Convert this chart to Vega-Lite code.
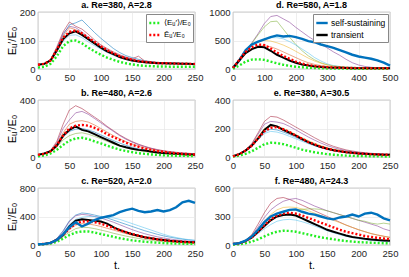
{
"$schema": "https://vega.github.io/schema/vega-lite/v6.json",
"padding": {"left": 5, "top": 0, "right": 0, "bottom": 0},
"config": {
  "font": "Liberation Sans",
  "view": {"stroke": "#8c8c8c", "strokeWidth": 0.7},
  "axis": {"labelFontSize": 9.5, "labelColor": "#262626", "gridColor": "#e6e6e6", "gridWidth": 0.7, "domain": false, "ticks": false, "labelPadding": 3, "labelFlush": false, "labelOverlap": false, "titleFontSize": 11, "titleFontWeight": "normal", "titleColor": "#000000", "titlePadding": 2, "format": "d"},
  "title": {"fontSize": 9, "fontWeight": "bold", "offset": -3, "color": "#000000"},
  "legend": {"orient": "top-right", "offset": 2, "title": null, "fillColor": "white", "strokeColor": "#888888", "padding": 2, "labelFontSize": 8, "labelOffset": 2, "symbolType": "stroke", "symbolSize": 130, "symbolStrokeWidth": 2.4, "symbolOpacity": 1, "rowPadding": 0, "labelLimit": 120}
},
"data": {"values": [
{"p":"a","t":0,"k":15,"r":15,"g":5,"c1":15,"c2":15,"c3":15,"c4":15,"c5":15},
{"p":"a","t":10,"k":18,"r":18,"g":8,"c1":18,"c2":19,"c3":18,"c4":17,"c5":18},
{"p":"a","t":20,"k":30,"r":30,"g":18,"c1":32,"c2":33,"c3":30,"c4":28,"c5":31},
{"p":"a","t":30,"k":65,"r":68,"g":45,"c1":70,"c2":78,"c3":68,"c4":60,"c5":72},
{"p":"a","t":40,"k":105,"r":110,"g":80,"c1":120,"c2":130,"c3":115,"c4":98,"c5":125},
{"p":"a","t":50,"k":125,"r":130,"g":98,"c1":155,"c2":165,"c3":145,"c4":118,"c5":150},
{"p":"a","t":60,"k":132,"r":135,"g":100,"c1":162,"c2":150,"c3":138,"c4":120,"c5":145},
{"p":"a","t":70,"k":120,"r":125,"g":90,"c1":172,"c2":140,"c3":125,"c4":110,"c5":130},
{"p":"a","t":80,"k":105,"r":110,"g":75,"c1":150,"c2":122,"c3":108,"c4":95,"c5":112},
{"p":"a","t":90,"k":90,"r":95,"g":62,"c1":128,"c2":102,"c3":92,"c4":82,"c5":95},
{"p":"a","t":100,"k":75,"r":80,"g":50,"c1":108,"c2":85,"c3":78,"c4":70,"c5":80},
{"p":"a","t":110,"k":62,"r":66,"g":40,"c1":90,"c2":72,"c3":65,"c4":58,"c5":68},
{"p":"a","t":120,"k":52,"r":55,"g":32,"c1":72,"c2":60,"c3":55,"c4":48,"c5":56},
{"p":"a","t":130,"k":42,"r":45,"g":25,"c1":58,"c2":50,"c3":46,"c4":40,"c5":47},
{"p":"a","t":140,"k":35,"r":38,"g":20,"c1":47,"c2":42,"c3":38,"c4":34,"c5":40},
{"p":"a","t":150,"k":30,"r":32,"g":16,"c1":40,"c2":36,"c3":32,"c4":28,"c5":34},
{"p":"a","t":160,"k":26,"r":28,"g":13,"c1":34,"c2":45,"c3":28,"c4":25,"c5":30},
{"p":"a","t":170,"k":24,"r":25,"g":11,"c1":29,"c2":28,"c3":25,"c4":23,"c5":26},
{"p":"a","t":180,"k":22,"r":23,"g":10,"c1":26,"c2":25,"c3":23,"c4":21,"c5":24},
{"p":"a","t":190,"k":20,"r":21,"g":9,"c1":23,"c2":23,"c3":21,"c4":20,"c5":22},
{"p":"a","t":200,"k":20,"r":20,"g":9,"c1":22,"c2":21,"c3":20,"c4":19,"c5":21},
{"p":"a","t":210,"k":19,"r":20,"g":8,"c1":21,"c2":20,"c3":19,"c4":18,"c5":20},
{"p":"a","t":220,"k":19,"r":19,"g":8,"c1":20,"c2":20,"c3":19,"c4":18,"c5":19},
{"p":"a","t":230,"k":18,"r":19,"g":8,"c1":20,"c2":19,"c3":18,"c4":17,"c5":19},
{"p":"a","t":240,"k":18,"r":18,"g":8,"c1":19,"c2":19,"c3":18,"c4":17,"c5":18},
{"p":"a","t":250,"k":17,"r":18,"g":8,"c1":19,"c2":18,"c3":17,"c4":17,"c5":18},
{"p":"b","t":0,"k":15,"r":15,"g":5,"c1":15,"c2":15,"c3":15,"c4":15,"c5":15},
{"p":"b","t":10,"k":25,"r":22,"g":10,"c1":25,"c2":24,"c3":24,"c4":25,"c5":24},
{"p":"b","t":20,"k":40,"r":40,"g":25,"c1":45,"c2":42,"c3":40,"c4":38,"c5":38},
{"p":"b","t":30,"k":80,"r":85,"g":50,"c1":110,"c2":100,"c3":90,"c4":75,"c5":70},
{"p":"b","t":40,"k":150,"r":150,"g":85,"c1":230,"c2":200,"c3":170,"c4":140,"c5":120},
{"p":"b","t":50,"k":190,"r":200,"g":115,"c1":330,"c2":260,"c3":230,"c4":180,"c5":150},
{"p":"b","t":60,"k":215,"r":220,"g":130,"c1":360,"c2":310,"c3":250,"c4":195,"c5":165},
{"p":"b","t":70,"k":190,"r":225,"g":135,"c1":340,"c2":320,"c3":255,"c4":200,"c5":170},
{"p":"b","t":80,"k":180,"r":220,"g":125,"c1":310,"c2":300,"c3":245,"c4":190,"c5":160},
{"p":"b","t":90,"k":160,"r":205,"g":110,"c1":280,"c2":270,"c3":225,"c4":175,"c5":145},
{"p":"b","t":100,"k":140,"r":185,"g":95,"c1":250,"c2":240,"c3":200,"c4":155,"c5":128},
{"p":"b","t":110,"k":120,"r":160,"g":80,"c1":215,"c2":210,"c3":175,"c4":135,"c5":110},
{"p":"b","t":120,"k":100,"r":140,"g":65,"c1":185,"c2":180,"c3":150,"c4":115,"c5":92},
{"p":"b","t":130,"k":80,"r":120,"g":52,"c1":155,"c2":150,"c3":128,"c4":98,"c5":78},
{"p":"b","t":140,"k":68,"r":100,"g":42,"c1":130,"c2":125,"c3":108,"c4":82,"c5":65},
{"p":"b","t":150,"k":58,"r":85,"g":34,"c1":108,"c2":104,"c3":90,"c4":68,"c5":54},
{"p":"b","t":160,"k":50,"r":72,"g":27,"c1":90,"c2":86,"c3":75,"c4":57,"c5":45},
{"p":"b","t":170,"k":45,"r":60,"g":22,"c1":75,"c2":72,"c3":63,"c4":48,"c5":38},
{"p":"b","t":180,"k":38,"r":50,"g":18,"c1":62,"c2":60,"c3":53,"c4":40,"c5":32},
{"p":"b","t":190,"k":32,"r":42,"g":15,"c1":52,"c2":50,"c3":45,"c4":34,"c5":27},
{"p":"b","t":200,"k":28,"r":36,"g":12,"c1":44,"c2":42,"c3":38,"c4":29,"c5":23},
{"p":"b","t":210,"k":25,"r":30,"g":10,"c1":38,"c2":36,"c3":33,"c4":25,"c5":20},
{"p":"b","t":220,"k":22,"r":26,"g":9,"c1":33,"c2":31,"c3":29,"c4":22,"c5":18},
{"p":"b","t":230,"k":20,"r":22,"g":8,"c1":29,"c2":27,"c3":25,"c4":20,"c5":16},
{"p":"b","t":240,"k":18,"r":20,"g":7,"c1":26,"c2":24,"c3":22,"c4":18,"c5":14},
{"p":"b","t":250,"k":15,"r":18,"g":6,"c1":23,"c2":21,"c3":20,"c4":16,"c5":13},
{"p":"c","t":0,"k":10,"r":10,"g":5,"b":10,"c1":10,"c2":10,"c3":10,"c4":10,"c5":10},
{"p":"c","t":10,"k":15,"r":15,"g":10,"b":15,"c1":16,"c2":16,"c3":15,"c4":15,"c5":14},
{"p":"c","t":20,"k":30,"r":30,"g":20,"b":30,"c1":35,"c2":35,"c3":32,"c4":30,"c5":28},
{"p":"c","t":30,"k":70,"r":70,"g":45,"b":70,"c1":90,"c2":90,"c3":80,"c4":70,"c5":60},
{"p":"c","t":40,"k":140,"r":140,"g":90,"b":150,"c1":200,"c2":190,"c3":170,"c4":140,"c5":120},
{"p":"c","t":50,"k":260,"r":230,"g":140,"b":250,"c1":340,"c2":330,"c3":290,"c4":220,"c5":180},
{"p":"c","t":60,"k":340,"r":300,"g":175,"b":320,"c1":420,"c2":410,"c3":360,"c4":280,"c5":230},
{"p":"c","t":70,"k":360,"r":330,"g":190,"b":260,"c1":450,"c2":430,"c3":390,"c4":300,"c5":250},
{"p":"c","t":80,"k":350,"r":330,"g":190,"b":300,"c1":440,"c2":420,"c3":400,"c4":295,"c5":245},
{"p":"c","t":90,"k":340,"r":320,"g":175,"b":350,"c1":420,"c2":400,"c3":400,"c4":280,"c5":230},
{"p":"c","t":100,"k":330,"r":300,"g":155,"b":380,"c1":400,"c2":380,"c3":395,"c4":260,"c5":210},
{"p":"c","t":110,"k":300,"r":270,"g":135,"b":400,"c1":380,"c2":350,"c3":390,"c4":235,"c5":190},
{"p":"c","t":120,"k":250,"r":240,"g":115,"b":420,"c1":350,"c2":320,"c3":380,"c4":210,"c5":165},
{"p":"c","t":130,"k":210,"r":210,"g":95,"b":460,"c1":320,"c2":285,"c3":360,"c4":185,"c5":145},
{"p":"c","t":140,"k":180,"r":180,"g":80,"b":490,"c1":290,"c2":250,"c3":330,"c4":160,"c5":125},
{"p":"c","t":150,"k":150,"r":155,"g":65,"b":510,"c1":260,"c2":215,"c3":300,"c4":138,"c5":108},
{"p":"c","t":160,"k":130,"r":130,"g":55,"b":480,"c1":230,"c2":185,"c3":270,"c4":118,"c5":92},
{"p":"c","t":170,"k":110,"r":110,"g":45,"b":460,"c1":200,"c2":158,"c3":240,"c4":100,"c5":78},
{"p":"c","t":180,"k":95,"r":95,"g":38,"b":470,"c1":175,"c2":135,"c3":210,"c4":85,"c5":66},
{"p":"c","t":190,"k":80,"r":80,"g":32,"b":490,"c1":150,"c2":115,"c3":180,"c4":72,"c5":56},
{"p":"c","t":200,"k":70,"r":68,"g":27,"b":470,"c1":128,"c2":98,"c3":150,"c4":62,"c5":48},
{"p":"c","t":210,"k":60,"r":58,"g":23,"b":490,"c1":110,"c2":84,"c3":125,"c4":53,"c5":41},
{"p":"c","t":220,"k":52,"r":50,"g":20,"b":530,"c1":95,"c2":72,"c3":105,"c4":46,"c5":35},
{"p":"c","t":230,"k":46,"r":44,"g":18,"b":600,"c1":82,"c2":62,"c3":88,"c4":40,"c5":30},
{"p":"c","t":240,"k":42,"r":40,"g":16,"b":620,"c1":72,"c2":54,"c3":75,"c4":35,"c5":26},
{"p":"c","t":250,"k":40,"r":36,"g":15,"b":590,"c1":64,"c2":48,"c3":65,"c4":31,"c5":23},
{"p":"d","t":0,"k":20,"r":20,"g":5,"b":20,"c1":20,"c2":20,"c3":20,"c4":20,"c5":20},
{"p":"d","t":20,"k":150,"r":160,"g":60,"b":150,"c1":150,"c2":150,"c3":140,"c4":150,"c5":140},
{"p":"d","t":40,"k":280,"r":300,"g":130,"b":330,"c1":320,"c2":310,"c3":290,"c4":310,"c5":280},
{"p":"d","t":60,"k":350,"r":380,"g":165,"b":430,"c1":460,"c2":450,"c3":400,"c4":420,"c5":360},
{"p":"d","t":80,"k":390,"r":430,"g":170,"b":480,"c1":620,"c2":600,"c3":470,"c4":480,"c5":400},
{"p":"d","t":100,"k":380,"r":420,"g":160,"b":520,"c1":800,"c2":740,"c3":520,"c4":500,"c5":410},
{"p":"d","t":120,"k":320,"r":360,"g":130,"b":560,"c1":920,"c2":830,"c3":550,"c4":490,"c5":390},
{"p":"d","t":140,"k":250,"r":290,"g":100,"b":590,"c1":940,"c2":840,"c3":550,"c4":460,"c5":350},
{"p":"d","t":160,"k":200,"r":230,"g":75,"b":570,"c1":880,"c2":700,"c3":530,"c4":420,"c5":300},
{"p":"d","t":180,"k":150,"r":180,"g":55,"b":580,"c1":820,"c2":560,"c3":480,"c4":370,"c5":250},
{"p":"d","t":200,"k":110,"r":130,"g":40,"b":560,"c1":730,"c2":430,"c3":420,"c4":310,"c5":200},
{"p":"d","t":220,"k":80,"r":95,"g":30,"b":530,"c1":650,"c2":320,"c3":350,"c4":250,"c5":150},
{"p":"d","t":240,"k":60,"r":70,"g":22,"b":490,"c1":570,"c2":230,"c3":280,"c4":190,"c5":110},
{"p":"d","t":260,"k":45,"r":52,"g":17,"b":470,"c1":500,"c2":160,"c3":200,"c4":140,"c5":80},
{"p":"d","t":280,"k":35,"r":40,"g":13,"b":430,"c1":430,"c2":110,"c3":140,"c4":100,"c5":60},
{"p":"d","t":300,"k":28,"r":32,"g":10,"b":400,"c1":370,"c2":75,"c3":90,"c4":70,"c5":45},
{"p":"d","t":320,"k":24,"r":26,"g":8,"b":370,"c1":300,"c2":55,"c3":60,"c4":50,"c5":35},
{"p":"d","t":340,"k":20,"r":22,"g":7,"b":330,"c1":240,"c2":40,"c3":45,"c4":40,"c5":28},
{"p":"d","t":360,"k":18,"r":19,"g":6,"b":290,"c1":170,"c2":32,"c3":35,"c4":32,"c5":24},
{"p":"d","t":380,"k":15,"r":17,"g":5,"b":250,"c1":110,"c2":28,"c3":30,"c4":28,"c5":20},
{"p":"d","t":400,"k":15,"r":15,"g":5,"b":220,"c1":70,"c2":25,"c3":26,"c4":25,"c5":18},
{"p":"d","t":420,"k":14,"r":15,"g":5,"b":200,"c1":45,"c2":22,"c3":24,"c4":22,"c5":17},
{"p":"d","t":440,"k":13,"r":14,"g":4,"b":180,"c1":30,"c2":20,"c3":22,"c4":20,"c5":16},
{"p":"d","t":460,"k":12,"r":13,"g":4,"b":150,"c1":22,"c2":18,"c3":20,"c4":18,"c5":15},
{"p":"d","t":480,"k":12,"r":12,"g":4,"b":110,"c1":18,"c2":17,"c3":18,"c4":17,"c5":14},
{"p":"d","t":500,"k":11,"r":12,"g":4,"b":60,"c1":16,"c2":16,"c3":17,"c4":16,"c5":13},
{"p":"e","t":0,"k":5,"r":5,"g":3,"c1":5,"c2":5,"c3":5,"c4":5,"c5":5},
{"p":"e","t":10,"k":20,"r":20,"g":10,"c1":22,"c2":21,"c3":20,"c4":20,"c5":19},
{"p":"e","t":20,"k":45,"r":45,"g":22,"c1":50,"c2":48,"c3":46,"c4":44,"c5":42},
{"p":"e","t":30,"k":80,"r":80,"g":40,"c1":95,"c2":90,"c3":85,"c4":80,"c5":75},
{"p":"e","t":40,"k":130,"r":130,"g":65,"c1":170,"c2":160,"c3":145,"c4":130,"c5":120},
{"p":"e","t":50,"k":190,"r":180,"g":90,"c1":250,"c2":230,"c3":200,"c4":175,"c5":165},
{"p":"e","t":60,"k":225,"r":205,"g":100,"c1":285,"c2":250,"c3":220,"c4":195,"c5":180},
{"p":"e","t":70,"k":215,"r":210,"g":98,"c1":280,"c2":245,"c3":215,"c4":190,"c5":175},
{"p":"e","t":80,"k":190,"r":195,"g":90,"c1":260,"c2":235,"c3":200,"c4":175,"c5":162},
{"p":"e","t":90,"k":170,"r":175,"g":78,"c1":235,"c2":215,"c3":180,"c4":158,"c5":145},
{"p":"e","t":100,"k":150,"r":150,"g":65,"c1":210,"c2":190,"c3":158,"c4":138,"c5":128},
{"p":"e","t":110,"k":125,"r":128,"g":52,"c1":185,"c2":165,"c3":135,"c4":118,"c5":110},
{"p":"e","t":120,"k":105,"r":105,"g":42,"c1":160,"c2":140,"c3":115,"c4":100,"c5":93},
{"p":"e","t":130,"k":85,"r":88,"g":33,"c1":135,"c2":118,"c3":96,"c4":84,"c5":78},
{"p":"e","t":140,"k":70,"r":72,"g":26,"c1":112,"c2":98,"c3":80,"c4":70,"c5":65},
{"p":"e","t":150,"k":58,"r":58,"g":20,"c1":92,"c2":80,"c3":66,"c4":58,"c5":54},
{"p":"e","t":160,"k":48,"r":48,"g":16,"c1":75,"c2":66,"c3":55,"c4":48,"c5":45},
{"p":"e","t":170,"k":40,"r":40,"g":13,"c1":62,"c2":54,"c3":46,"c4":40,"c5":37},
{"p":"e","t":180,"k":34,"r":34,"g":10,"c1":50,"c2":45,"c3":38,"c4":33,"c5":31},
{"p":"e","t":190,"k":29,"r":29,"g":8,"c1":42,"c2":38,"c3":32,"c4":28,"c5":26},
{"p":"e","t":200,"k":25,"r":25,"g":7,"c1":35,"c2":32,"c3":27,"c4":24,"c5":22},
{"p":"e","t":210,"k":22,"r":22,"g":6,"c1":30,"c2":27,"c3":23,"c4":21,"c5":19},
{"p":"e","t":220,"k":20,"r":20,"g":5,"c1":26,"c2":24,"c3":20,"c4":18,"c5":17},
{"p":"e","t":230,"k":18,"r":18,"g":5,"c1":23,"c2":21,"c3":18,"c4":16,"c5":15},
{"p":"e","t":240,"k":16,"r":16,"g":4,"c1":21,"c2":19,"c3":16,"c4":15,"c5":14},
{"p":"e","t":250,"k":15,"r":15,"g":4,"c1":19,"c2":17,"c3":15,"c4":14,"c5":13},
{"p":"f","t":0,"k":10,"r":10,"g":3,"b":10,"c1":10,"c2":10,"c3":10,"c4":10,"c5":10},
{"p":"f","t":10,"k":18,"r":18,"g":8,"b":20,"c1":20,"c2":20,"c3":19,"c4":19,"c5":18},
{"p":"f","t":20,"k":40,"r":40,"g":18,"b":45,"c1":50,"c2":48,"c3":45,"c4":44,"c5":40},
{"p":"f","t":30,"k":80,"r":80,"g":35,"b":90,"c1":110,"c2":100,"c3":95,"c4":90,"c5":75},
{"p":"f","t":40,"k":140,"r":140,"g":60,"b":160,"c1":220,"c2":190,"c3":170,"c4":160,"c5":120},
{"p":"f","t":50,"k":200,"r":210,"g":90,"b":240,"c1":340,"c2":290,"c3":250,"c4":230,"c5":170},
{"p":"f","t":60,"k":260,"r":270,"g":120,"b":300,"c1":440,"c2":370,"c3":320,"c4":290,"c5":215},
{"p":"f","t":70,"k":300,"r":310,"g":140,"b":330,"c1":490,"c2":420,"c3":370,"c4":330,"c5":250},
{"p":"f","t":80,"k":315,"r":330,"g":150,"b":350,"c1":500,"c2":460,"c3":395,"c4":355,"c5":265},
{"p":"f","t":90,"k":320,"r":340,"g":148,"b":370,"c1":480,"c2":480,"c3":400,"c4":365,"c5":270},
{"p":"f","t":100,"k":310,"r":330,"g":140,"b":375,"c1":450,"c2":490,"c3":395,"c4":370,"c5":262},
{"p":"f","t":110,"k":280,"r":310,"g":125,"b":350,"c1":420,"c2":470,"c3":380,"c4":375,"c5":245},
{"p":"f","t":120,"k":250,"r":285,"g":110,"b":330,"c1":390,"c2":440,"c3":360,"c4":380,"c5":225},
{"p":"f","t":130,"k":220,"r":260,"g":95,"b":320,"c1":360,"c2":410,"c3":335,"c4":380,"c5":200},
{"p":"f","t":140,"k":190,"r":235,"g":80,"b":300,"c1":330,"c2":385,"c3":310,"c4":375,"c5":175},
{"p":"f","t":150,"k":160,"r":210,"g":70,"b":280,"c1":300,"c2":360,"c3":285,"c4":360,"c5":150},
{"p":"f","t":160,"k":140,"r":185,"g":60,"b":270,"c1":270,"c2":340,"c3":260,"c4":340,"c5":128},
{"p":"f","t":170,"k":120,"r":160,"g":50,"b":290,"c1":240,"c2":320,"c3":235,"c4":320,"c5":108},
{"p":"f","t":180,"k":100,"r":140,"g":42,"b":300,"c1":210,"c2":300,"c3":210,"c4":300,"c5":92},
{"p":"f","t":190,"k":85,"r":125,"g":36,"b":320,"c1":185,"c2":280,"c3":185,"c4":280,"c5":78},
{"p":"f","t":200,"k":75,"r":110,"g":30,"b":300,"c1":160,"c2":260,"c3":162,"c4":260,"c5":66},
{"p":"f","t":210,"k":65,"r":95,"g":27,"b":330,"c1":140,"c2":240,"c3":140,"c4":250,"c5":56},
{"p":"f","t":220,"k":58,"r":85,"g":24,"b":340,"c1":120,"c2":220,"c3":120,"c4":230,"c5":48},
{"p":"f","t":230,"k":52,"r":75,"g":21,"b":320,"c1":105,"c2":200,"c3":105,"c4":220,"c5":42},
{"p":"f","t":240,"k":48,"r":68,"g":19,"b":280,"c1":92,"c2":170,"c3":92,"c4":230,"c5":37},
{"p":"f","t":250,"k":45,"r":60,"g":17,"b":260,"c1":80,"c2":150,"c3":80,"c4":220,"c5":33}
]},
"columns": 2,
"spacing": {"row": 6, "column": 4},
"resolve": {"scale": {"color": "independent", "x": "independent", "y": "independent"}, "legend": {"color": "independent"}},
"concat": [
{
  "title": "a. Re=380, A=2.8", "width": 157, "height": 57,
  "transform": [{"filter": "datum.p == 'a'"}],
  "encoding": {
    "x": {"field": "t", "type": "quantitative", "title": null, "scale": {"domain": [0, 250], "nice": false}, "axis": {"values": [0, 50, 100, 150, 200, 250]}},
    "y": {"field": "v", "type": "quantitative", "title": "Eᵤ′/E₀", "scale": {"domain": [0, 200], "nice": false}, "axis": {"values": [0, 100, 200]}},
    "color": {"field": "s", "type": "nominal", "scale": {"domain": ["g", "r", "k", "b", "c1", "c2", "c3", "c4", "c5"], "range": ["#22ee22", "#ff0000", "#000000", "#0072BD", "#0072BD", "#A2142F", "#D95319", "#4DBEEE", "#7E2F8E"]}, "legend": {"values": ["g", "r"], "symbolDash": [2, 2], "labelExpr": "datum.value == 'g' ? '⟨Eᵤ′⟩/E₀' : 'Ēᵤ′/E₀'"}}
  },
  "layer": [
    {"transform": [{"fold": ["c1", "c2", "c3", "c4", "c5"], "as": ["s", "v"]}], "mark": {"type": "line", "strokeWidth": 0.75, "opacity": 0.7}},
    {"transform": [{"fold": ["k"], "as": ["s", "v"]}], "mark": {"type": "line", "strokeWidth": 2}},
    {"transform": [{"fold": ["g", "r"], "as": ["s", "v"]}], "mark": {"type": "line", "strokeWidth": 2.4, "strokeDash": [2, 2]}}
  ]
},
{
  "title": "d. Re=580,  A=1.8", "width": 157, "height": 57,
  "transform": [{"filter": "datum.p == 'd'"}],
  "encoding": {
    "x": {"field": "t", "type": "quantitative", "title": null, "scale": {"domain": [0, 500], "nice": false}, "axis": {"values": [0, 100, 200, 300, 400, 500]}},
    "y": {"field": "v", "type": "quantitative", "title": null, "scale": {"domain": [0, 1000], "nice": false}, "axis": {"values": [0, 500, 1000]}},
    "color": {"field": "s", "type": "nominal", "scale": {"domain": ["g", "r", "k", "b", "c1", "c2", "c3", "c4", "c5"], "range": ["#22ee22", "#ff0000", "#000000", "#0072BD", "#7E2F8E", "#77AC30", "#4DBEEE", "#EDB120", "#D95319"]}, "legend": {"values": ["b", "k"], "labelFontSize": 8.5, "labelExpr": "datum.value == 'b' ? 'self-sustaining' : 'transient'"}}
  },
  "layer": [
    {"transform": [{"fold": ["c1", "c2", "c3", "c4", "c5"], "as": ["s", "v"]}], "mark": {"type": "line", "strokeWidth": 0.75, "opacity": 0.7}},
    {"transform": [{"fold": ["b"], "as": ["s", "v"]}], "mark": {"type": "line", "strokeWidth": 2.4}},
    {"transform": [{"fold": ["k"], "as": ["s", "v"]}], "mark": {"type": "line", "strokeWidth": 2}},
    {"transform": [{"fold": ["g", "r"], "as": ["s", "v"]}], "mark": {"type": "line", "strokeWidth": 2.4, "strokeDash": [2, 2]}}
  ]
},
{
  "title": "b. Re=480, A=2.6", "width": 157, "height": 57,
  "transform": [{"filter": "datum.p == 'b'"}],
  "encoding": {
    "x": {"field": "t", "type": "quantitative", "title": null, "scale": {"domain": [0, 250], "nice": false}, "axis": {"values": [0, 50, 100, 150, 200, 250]}},
    "y": {"field": "v", "type": "quantitative", "title": "Eᵤ′/E₀", "scale": {"domain": [0, 400], "nice": false}, "axis": {"values": [0, 200, 400]}},
    "color": {"field": "s", "type": "nominal", "scale": {"domain": ["g", "r", "k", "b", "c1", "c2", "c3", "c4", "c5"], "range": ["#22ee22", "#ff0000", "#000000", "#0072BD", "#A2142F", "#7E2F8E", "#D95319", "#0072BD", "#77AC30"]}, "legend": null}
  },
  "layer": [
    {"transform": [{"fold": ["c1", "c2", "c3", "c4", "c5"], "as": ["s", "v"]}], "mark": {"type": "line", "strokeWidth": 0.75, "opacity": 0.7}},
    {"transform": [{"fold": ["k"], "as": ["s", "v"]}], "mark": {"type": "line", "strokeWidth": 2}},
    {"transform": [{"fold": ["g", "r"], "as": ["s", "v"]}], "mark": {"type": "line", "strokeWidth": 2.4, "strokeDash": [2, 2]}}
  ]
},
{
  "title": "e. Re=380,  A=30.5", "width": 157, "height": 57,
  "transform": [{"filter": "datum.p == 'e'"}],
  "encoding": {
    "x": {"field": "t", "type": "quantitative", "title": null, "scale": {"domain": [0, 250], "nice": false}, "axis": {"values": [0, 50, 100, 150, 200, 250]}},
    "y": {"field": "v", "type": "quantitative", "title": null, "scale": {"domain": [0, 400], "nice": false}, "axis": {"values": [0, 200, 400]}},
    "color": {"field": "s", "type": "nominal", "scale": {"domain": ["g", "r", "k", "b", "c1", "c2", "c3", "c4", "c5"], "range": ["#22ee22", "#ff0000", "#000000", "#0072BD", "#A2142F", "#7E2F8E", "#EDB120", "#0072BD", "#4DBEEE"]}, "legend": null}
  },
  "layer": [
    {"transform": [{"fold": ["c1", "c2", "c3", "c4", "c5"], "as": ["s", "v"]}], "mark": {"type": "line", "strokeWidth": 0.75, "opacity": 0.7}},
    {"transform": [{"fold": ["k"], "as": ["s", "v"]}], "mark": {"type": "line", "strokeWidth": 2}},
    {"transform": [{"fold": ["g", "r"], "as": ["s", "v"]}], "mark": {"type": "line", "strokeWidth": 2.4, "strokeDash": [2, 2]}}
  ]
},
{
  "title": "c. Re=520, A=2.0", "width": 157, "height": 57,
  "transform": [{"filter": "datum.p == 'c'"}],
  "encoding": {
    "x": {"field": "t", "type": "quantitative", "title": "t.", "scale": {"domain": [0, 250], "nice": false}, "axis": {"values": [0, 50, 100, 150, 200, 250]}},
    "y": {"field": "v", "type": "quantitative", "title": "Eᵤ′/E₀", "scale": {"domain": [0, 800], "nice": false}, "axis": {"values": [0, 400, 800]}},
    "color": {"field": "s", "type": "nominal", "scale": {"domain": ["g", "r", "k", "b", "c1", "c2", "c3", "c4", "c5"], "range": ["#22ee22", "#ff0000", "#000000", "#0072BD", "#0072BD", "#7E2F8E", "#4DBEEE", "#D95319", "#77AC30"]}, "legend": null}
  },
  "layer": [
    {"transform": [{"fold": ["c1", "c2", "c3", "c4", "c5"], "as": ["s", "v"]}], "mark": {"type": "line", "strokeWidth": 0.75, "opacity": 0.7}},
    {"transform": [{"fold": ["k"], "as": ["s", "v"]}], "mark": {"type": "line", "strokeWidth": 2}},
    {"transform": [{"fold": ["g", "r"], "as": ["s", "v"]}], "mark": {"type": "line", "strokeWidth": 2.4, "strokeDash": [2, 2]}},
    {"transform": [{"fold": ["b"], "as": ["s", "v"]}], "mark": {"type": "line", "strokeWidth": 2.4}}
  ]
},
{
  "title": "f. Re=480,  A=24.3", "width": 157, "height": 57,
  "transform": [{"filter": "datum.p == 'f'"}],
  "encoding": {
    "x": {"field": "t", "type": "quantitative", "title": "t.", "scale": {"domain": [0, 250], "nice": false}, "axis": {"values": [0, 50, 100, 150, 200, 250]}},
    "y": {"field": "v", "type": "quantitative", "title": null, "scale": {"domain": [0, 600], "nice": false}, "axis": {"values": [0, 300, 600]}},
    "color": {"field": "s", "type": "nominal", "scale": {"domain": ["g", "r", "k", "b", "c1", "c2", "c3", "c4", "c5"], "range": ["#22ee22", "#ff0000", "#000000", "#0072BD", "#A2142F", "#7E2F8E", "#EDB120", "#77AC30", "#4DBEEE"]}, "legend": null}
  },
  "layer": [
    {"transform": [{"fold": ["c1", "c2", "c3", "c4", "c5"], "as": ["s", "v"]}], "mark": {"type": "line", "strokeWidth": 0.75, "opacity": 0.7}},
    {"transform": [{"fold": ["k"], "as": ["s", "v"]}], "mark": {"type": "line", "strokeWidth": 2}},
    {"transform": [{"fold": ["g", "r"], "as": ["s", "v"]}], "mark": {"type": "line", "strokeWidth": 2.4, "strokeDash": [2, 2]}},
    {"transform": [{"fold": ["b"], "as": ["s", "v"]}], "mark": {"type": "line", "strokeWidth": 2.4}}
  ]
}
]
}
